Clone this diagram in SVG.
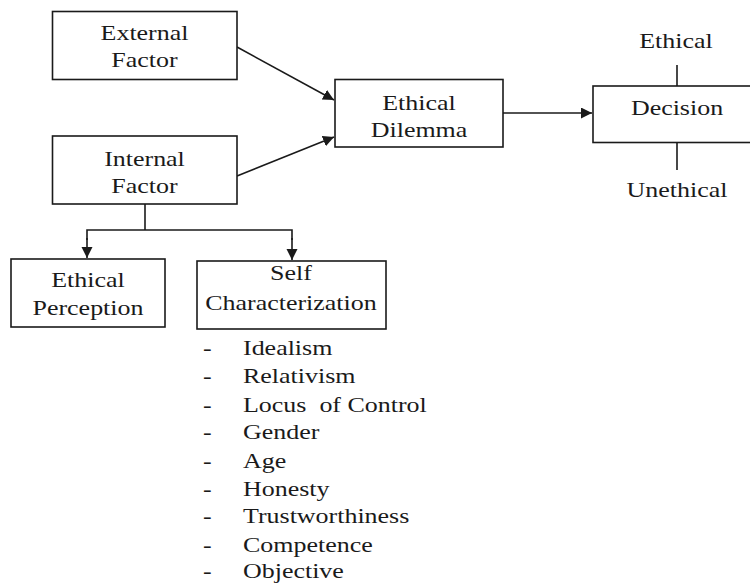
<svg xmlns="http://www.w3.org/2000/svg" width="750" height="585" viewBox="0 0 750 585">
<style>
  .box { fill: #ffffff; stroke: #1a1a1a; stroke-width: 1.6; }
  .t { font-family: "Liberation Serif", "Times New Roman", serif; font-size: 22px; fill: #1a1a1a; }
  .c { text-anchor: middle; }
  .ln { fill: none; stroke: #1a1a1a; stroke-width: 1.6; }
</style>
<defs>
  <marker id="ah" markerUnits="userSpaceOnUse" markerWidth="12" markerHeight="12" refX="11" refY="5.5" orient="auto">
    <path d="M0,0 L11,5.5 L0,11 z" fill="#1a1a1a"/>
  </marker>
</defs>
<rect width="750" height="585" fill="#ffffff"/>

<g id="connectors">
  <line class="ln" x1="237" y1="47" x2="334" y2="100" marker-end="url(#ah)"/>
  <line class="ln" x1="237" y1="176" x2="334" y2="137" marker-end="url(#ah)"/>
  <line class="ln" x1="503" y1="113" x2="592" y2="113" marker-end="url(#ah)"/>
  <polyline class="ln" points="145,204 145,230"/>
  <polyline class="ln" points="87,240 87,230 292,230 292,240"/>
  <line class="ln" x1="87" y1="238" x2="87" y2="258" marker-end="url(#ah)"/>
  <line class="ln" x1="292" y1="238" x2="292" y2="260" marker-end="url(#ah)"/>
  <line class="ln" x1="677" y1="65" x2="677" y2="86"/>
  <line class="ln" x1="677" y1="142" x2="677" y2="170"/>
</g>

<g id="external-factor">
  <rect class="box" x="52.5" y="11.5" width="184.5" height="68"/>
  <text class="t c" transform="translate(144.5,40) scale(1.18,1)">External</text>
  <text class="t c" transform="translate(144.5,67) scale(1.18,1)">Factor</text>
</g>

<g id="internal-factor">
  <rect class="box" x="52.5" y="136" width="184.5" height="68"/>
  <text class="t c" transform="translate(144.5,166) scale(1.18,1)">Internal</text>
  <text class="t c" transform="translate(144.5,193) scale(1.18,1)">Factor</text>
</g>

<g id="ethical-dilemma">
  <rect class="box" x="335" y="79.5" width="168" height="67.5"/>
  <text class="t c" transform="translate(419,110) scale(1.18,1)">Ethical</text>
  <text class="t c" transform="translate(419,137) scale(1.18,1)">Dilemma</text>
</g>

<g id="decision">
  <rect class="box" x="593" y="86" width="170" height="56.5"/>
  <text class="t c" transform="translate(677,115) scale(1.18,1)">Decision</text>
</g>

<g id="ethical-label">
  <text class="t c" transform="translate(676,48) scale(1.18,1)">Ethical</text>
</g>

<g id="unethical-label">
  <text class="t c" transform="translate(677,197) scale(1.18,1)">Unethical</text>
</g>

<g id="ethical-perception">
  <rect class="box" x="11" y="259" width="154" height="68"/>
  <text class="t c" transform="translate(88,287) scale(1.18,1)">Ethical</text>
  <text class="t c" transform="translate(88,315) scale(1.18,1)">Perception</text>
</g>

<g id="self-characterization">
  <rect class="box" x="197" y="261" width="189" height="68"/>
  <text class="t c" transform="translate(291,280) scale(1.18,1)">Self</text>
  <text class="t c" transform="translate(291,310) scale(1.18,1)">Characterization</text>
</g>

<g id="characteristics-list">
  <text class="t" transform="translate(203,355) scale(1.18,1)">-</text>
  <text class="t" transform="translate(243,355) scale(1.18,1)">Idealism</text>
  <text class="t" transform="translate(203,383) scale(1.18,1)">-</text>
  <text class="t" transform="translate(243,383) scale(1.18,1)">Relativism</text>
  <text class="t" transform="translate(203,412) scale(1.18,1)">-</text>
  <text class="t" transform="translate(243,412) scale(1.18,1)" xml:space="preserve">Locus  of Control</text>
  <text class="t" transform="translate(203,439) scale(1.18,1)">-</text>
  <text class="t" transform="translate(243,439) scale(1.18,1)">Gender</text>
  <text class="t" transform="translate(203,468) scale(1.18,1)">-</text>
  <text class="t" transform="translate(243,468) scale(1.18,1)">Age</text>
  <text class="t" transform="translate(203,496) scale(1.18,1)">-</text>
  <text class="t" transform="translate(243,496) scale(1.18,1)">Honesty</text>
  <text class="t" transform="translate(203,523) scale(1.18,1)">-</text>
  <text class="t" transform="translate(243,523) scale(1.18,1)">Trustworthiness</text>
  <text class="t" transform="translate(203,552) scale(1.18,1)">-</text>
  <text class="t" transform="translate(243,552) scale(1.18,1)">Competence</text>
  <text class="t" transform="translate(203,578) scale(1.18,1)">-</text>
  <text class="t" transform="translate(243,578) scale(1.18,1)">Objective</text>
</g>
</svg>
